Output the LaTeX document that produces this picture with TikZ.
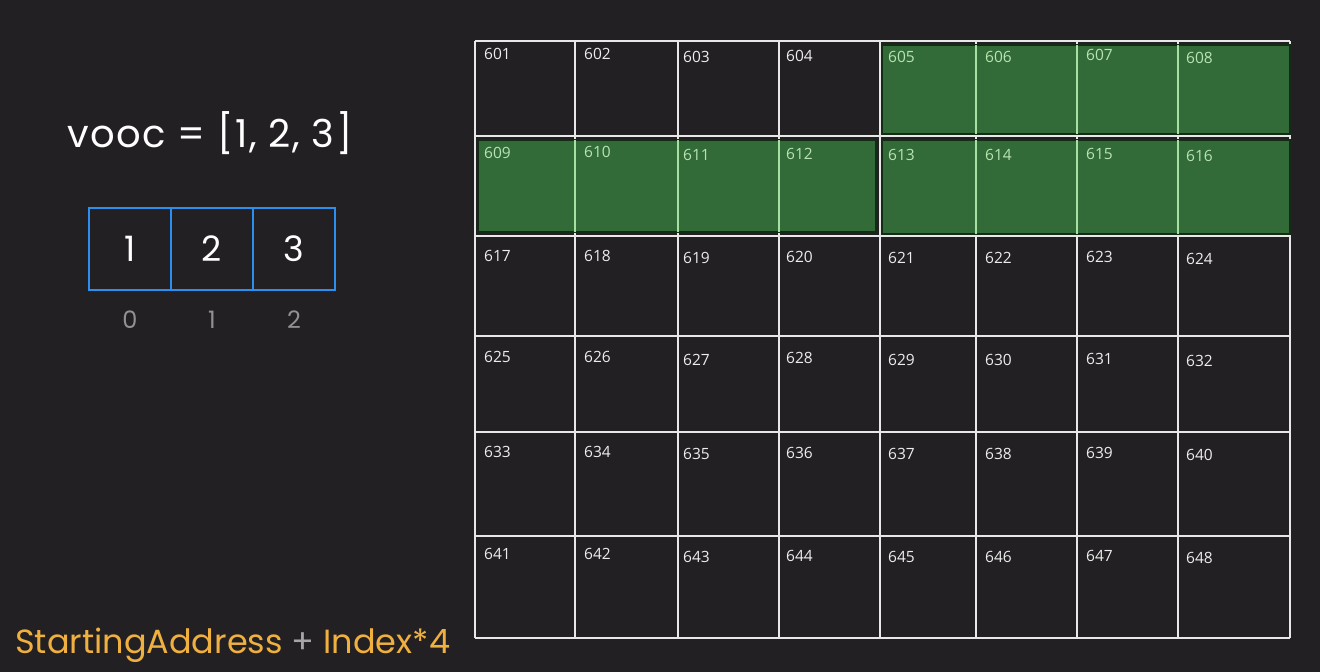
\documentclass[tikz,border=0pt]{standalone}
\usepackage{fontspec}
\setmainfont{Poppins}
\newfontfamily\spacedfont[LetterSpace=4]{Poppins}
\newfontfamily\cellfont{Open Sans}
\definecolor{bg}{RGB}{34,32,34}
\definecolor{gfill}{RGB}{51,107,56}
\definecolor{gline}{RGB}{168,224,164}
\definecolor{glabel}{RGB}{184,228,178}
\definecolor{gridc}{RGB}{232,232,232}
\definecolor{arrblue}{RGB}{43,143,240}
\definecolor{idxgrey}{RGB}{145,145,145}
\definecolor{orangec}{RGB}{240,176,64}
\definecolor{plusgrey}{RGB}{165,165,165}
\tikzset{
  arrcell/.style={draw=arrblue, line width=2.6pt, minimum width=82pt, minimum height=82pt, inner sep=0, text=white, font=\fontsize{35}{35}\selectfont},
  idxlab/.style={text=idxgrey, inner sep=0, font=\fontsize{24}{24}\selectfont},
  celllab/.style={anchor=west, inner sep=0, text=white!93!black, font=\cellfont\fontsize{15.5}{16}\selectfont},
  greenlab/.style={celllab, text=glabel},
  gridline/.style={draw=gridc, line width=1.6pt},
  greenbox/.style={fill=gfill, draw=black!60!gfill, line width=1.5pt}
}
\begin{document}
\begin{tikzpicture}[x=1pt,y=-1pt]
\fill[bg] (0,0) rectangle (1320,672);
\useasboundingbox (0,0) rectangle (1320,672);

% title
\node[anchor=base west, inner sep=0, text=white, font=\spacedfont\fontsize{38.5}{38.5}\selectfont] (title) at (67,147) {vooc = [1, 2, 3]};

% array
\node[arrcell] (a0) at (130,249) {1};
\node[arrcell] (a1) at (212,249) {2};
\node[arrcell] (a2) at (294,249) {3};
\node[idxlab] (i0) at (130,320) {0};
\node[idxlab] (i1) at (212,320) {1};
\node[idxlab] (i2) at (294,320) {2};

% formula
\node[anchor=base west, inner sep=0, font=\fontsize{33.5}{33.5}\selectfont] (formula) at (15,653)
  {\textcolor{orangec}{StartingAddress} \textcolor{plusgrey}{+} \textcolor{orangec}{Index*4}};

% grid
\foreach \x in {475,575,678,779,880,976,1077,1178,1290}
  \draw[gridline] (\x,41) -- (\x,638);
\foreach \y in {41,136,236,336,432,536,638}
  \draw[gridline] (475,\y) -- (1290,\y);

% green highlights
\draw[greenbox] (882,45) rectangle (1290,134);
\draw[greenbox] (478,140) rectangle (876,232);
\draw[greenbox] (882,140) rectangle (1290,234);
\foreach \x in {976,1077,1178} {
  \draw[gline, line width=1.6pt] (\x,45) -- (\x,134);
  \draw[gline, line width=1.6pt] (\x,140) -- (\x,234);
}
\foreach \x in {575,678,779}
  \draw[gline, line width=1.6pt] (\x,140) -- (\x,232);

% cell labels
\foreach \n/\x/\y in {601/484/54,602/584/54,603/683/57,604/786/56,
  617/484/256,618/584/256,619/683/258,620/786/257,621/888/258,622/985/258,623/1086/257,624/1186/259,
  625/484/357,626/584/357,627/683/360,628/786/358,629/888/360,630/985/360,631/1086/359,632/1186/361,
  633/484/452,634/584/452,635/683/454,636/786/453,637/888/454,638/985/454,639/1086/453,640/1186/455,
  641/484/554,642/584/554,643/683/557,644/786/556,645/888/557,646/985/557,647/1086/556,648/1186/558}
  \node[celllab] (c\n) at (\x,\y) {\n};
\foreach \n/\x/\y in {605/888/57,606/985/57,607/1086/55,608/1186/58,
  609/484/153,610/584/152,611/683/155,612/786/154,613/888/155,614/985/155,615/1086/154,616/1186/156}
  \node[greenlab] (c\n) at (\x,\y) {\n};
\end{tikzpicture}
\end{document}
